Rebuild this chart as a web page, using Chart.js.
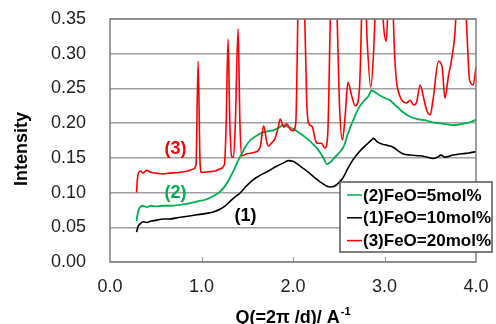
<!DOCTYPE html>
<html>
<head>
<meta charset="utf-8">
<script src="https://cdn.jsdelivr.net/npm/chart.js@4/dist/chart.umd.min.js"></script>
<style>
html,body{margin:0;padding:0;background:#fff;}
#wrap{width:496px;height:324px;}
</style>
</head>
<body>
<div id="wrap"><canvas id="c" width="496" height="324"></canvas></div>
<script>
// ---- data ----
const seriesLabels = ['(2)FeO=5mol%', '(1)FeO=10mol%', '(3)FeO=20mol%'];
const seriesColors = ['#00B050', '#000000', '#FF0000'];

// (2) FeO = 5 mol%
const q2 = [0.29,0.30,0.31,0.33,0.36,0.40,0.45,0.50,0.58,0.65,0.75,0.85,0.95,1.05,1.13,1.20,1.26,1.31,1.36,1.40,1.44,1.48,1.53,1.58,1.64,1.72,1.79,1.85,1.89,1.94,2.00,2.08,2.15,2.21,2.26,2.30,2.34,2.37,2.41,2.45,2.51,2.56,2.60,2.66,2.72,2.78,2.82,2.86,2.90,2.99,3.06,3.10,3.15,3.20,3.27,3.35,3.45,3.53,3.65,3.75,3.85,3.95,4.00];
const i2 = [0.059,0.068,0.074,0.079,0.081,0.079,0.081,0.080,0.081,0.081,0.082,0.084,0.087,0.090,0.095,0.101,0.110,0.121,0.134,0.146,0.156,0.166,0.175,0.180,0.185,0.188,0.190,0.194,0.197,0.195,0.192,0.185,0.178,0.171,0.164,0.157,0.148,0.141,0.144,0.150,0.158,0.168,0.185,0.205,0.222,0.233,0.238,0.247,0.244,0.237,0.233,0.228,0.222,0.216,0.210,0.206,0.204,0.201,0.199,0.197,0.199,0.202,0.205];

// (1) FeO = 10 mol%
const q1 = [0.29,0.30,0.31,0.33,0.36,0.40,0.45,0.50,0.58,0.65,0.75,0.85,0.95,1.05,1.13,1.20,1.26,1.31,1.36,1.42,1.48,1.55,1.63,1.73,1.82,1.90,1.95,2.00,2.05,2.10,2.17,2.24,2.30,2.36,2.40,2.45,2.50,2.55,2.60,2.66,2.72,2.77,2.82,2.86,2.88,2.92,2.97,3.03,3.10,3.15,3.20,3.28,3.39,3.47,3.53,3.58,3.62,3.66,3.75,3.85,3.92,4.00];
const i1 = [0.043,0.048,0.052,0.055,0.058,0.057,0.059,0.060,0.062,0.062,0.064,0.066,0.068,0.070,0.072,0.076,0.081,0.087,0.093,0.099,0.108,0.117,0.124,0.131,0.138,0.143,0.146,0.145,0.141,0.136,0.129,0.121,0.115,0.110,0.108,0.109,0.114,0.122,0.135,0.148,0.158,0.165,0.171,0.176,0.178,0.173,0.170,0.168,0.165,0.160,0.156,0.154,0.153,0.151,0.149,0.151,0.154,0.151,0.154,0.156,0.157,0.159];

// (3) FeO = 20 mol%
const q3 = [0.29,0.30,0.31,0.33,0.36,0.40,0.45,0.50,0.58,0.65,0.75,0.85,0.91,0.94,0.963,0.985,1.00,1.08,1.15,1.20,1.25,1.27,1.29,1.31,1.33,1.35,1.37,1.40,1.42,1.44,1.50,1.58,1.64,1.68,1.71,1.73,1.77,1.80,1.84,1.86,1.90,1.93,1.97,2.00,2.03,2.06,2.09,2.12,2.15,2.17,2.21,2.24,2.26,2.31,2.35,2.38,2.41,2.45,2.48,2.51,2.54,2.57,2.60,2.64,2.68,2.70,2.73,2.76,2.78,2.81,2.85,2.88,2.91,2.95,2.99,3.02,3.05,3.08,3.11,3.13,3.17,3.24,3.28,3.32,3.35,3.39,3.42,3.46,3.50,3.53,3.59,3.63,3.66,3.70,3.73,3.77,3.80,3.85,3.89,3.93,3.97,4.00];
const i3 = [0.100,0.120,0.128,0.131,0.128,0.132,0.129,0.128,0.127,0.128,0.129,0.131,0.134,0.140,0.289,0.140,0.129,0.130,0.131,0.134,0.140,0.200,0.321,0.200,0.152,0.151,0.200,0.336,0.200,0.153,0.156,0.158,0.165,0.196,0.175,0.167,0.172,0.177,0.195,0.206,0.194,0.199,0.191,0.189,0.200,0.400,0.460,0.400,0.230,0.200,0.195,0.178,0.171,0.171,0.164,0.185,0.360,0.450,0.360,0.220,0.176,0.210,0.259,0.240,0.225,0.227,0.259,0.400,0.420,0.320,0.252,0.300,0.400,0.450,0.340,0.318,0.400,0.400,0.300,0.262,0.238,0.229,0.233,0.226,0.230,0.255,0.241,0.219,0.212,0.233,0.289,0.281,0.236,0.269,0.289,0.330,0.400,0.420,0.360,0.262,0.255,0.281];

// curve tags drawn inside the plot (data coordinates)
const tagText = ['(3)', '(2)', '(1)'];
const tagQ = [0.715, 0.715, 1.48];
const tagI = [0.163, 0.100, 0.066];
const tagColor = ['#FF0000', '#00B050', '#000000'];

const xTicksMin = 0, xTicksMax = 4, xStep = 1;
const yTicksMin = 0, yTicksMax = 0.35, yStep = 0.05;
const xTitleMain = 'Q(=2\u03C0 /d)/ A';
const xTitleSup = '-1';
const yTitle = 'Intensity';

function pts(q, v) { return q.map((x, k) => ({x: x, y: v[k]})); }

const decor = {
  id: 'decor',
  afterDatasetsDraw(chart) {
    const ctx = chart.ctx, a = chart.chartArea, xs = chart.scales.x;
    ctx.save();
    ctx.strokeStyle = '#a0a0a0';
    ctx.lineWidth = 1.2;
    for (let v = xTicksMin + xStep; v < xTicksMax; v += xStep) {
      const px = Math.round(xs.getPixelForValue(v)) + 0.5;
      ctx.beginPath(); ctx.moveTo(px, a.bottom); ctx.lineTo(px, a.bottom - 5); ctx.stroke();
    }
    ctx.strokeStyle = '#808080';
    ctx.lineWidth = 1.5;
    ctx.strokeRect(a.left, a.top, a.right - a.left, a.bottom - a.top);
    ctx.restore();
  },
  afterDraw(chart) {
    const ctx = chart.ctx, a = chart.chartArea, xs = chart.scales.x, ys = chart.scales.y;
    ctx.save();
    ctx.font = 'bold 18px "Liberation Sans", Arial, sans-serif';
    ctx.textAlign = 'center';
    ctx.textBaseline = 'middle';
    tagText.forEach((t, k) => {
      ctx.fillStyle = tagColor[k];
      ctx.fillText(t, xs.getPixelForValue(tagQ[k]), ys.getPixelForValue(tagI[k]));
    });
    ctx.fillStyle = '#000';
    ctx.save();
    ctx.translate(22, 149);
    ctx.rotate(-Math.PI / 2);
    ctx.fillText(yTitle, 0, 0);
    ctx.restore();
    ctx.textAlign = 'left';
    ctx.textBaseline = 'alphabetic';
    const wMain = ctx.measureText(xTitleMain).width;
    ctx.font = 'bold 11px "Liberation Sans", Arial, sans-serif';
    const wSup = ctx.measureText(xTitleSup).width;
    const cx = (a.left + a.right) / 2;
    const x0 = cx - (wMain + wSup + 1) / 2;
    const base = 323;
    ctx.font = 'bold 18px "Liberation Sans", Arial, sans-serif';
    ctx.fillText(xTitleMain, x0, base);
    ctx.font = 'bold 11px "Liberation Sans", Arial, sans-serif';
    ctx.fillText(xTitleSup, x0 + wMain + 1, base - 8);
    const lx = a.right - 136, ly = 182, lw = 152, lh = 70;
    ctx.fillStyle = '#fff';
    ctx.fillRect(lx, ly, lw, lh);
    ctx.strokeStyle = '#555';
    ctx.lineWidth = 1.5;
    ctx.strokeRect(lx, ly, lw, lh);
    ctx.font = 'bold 17px "Liberation Sans", Arial, sans-serif';
    ctx.textBaseline = 'middle';
    chart.data.datasets.forEach((ds, k) => {
      const yy = ly + 13 + k * 22.8;
      ctx.strokeStyle = ds.borderColor;
      ctx.lineWidth = 1.5;
      ctx.beginPath(); ctx.moveTo(lx + 7, yy); ctx.lineTo(lx + 22, yy); ctx.stroke();
      ctx.fillStyle = '#000';
      ctx.fillText(ds.label, lx + 23, yy + 1);
    });
    ctx.restore();
  }
};

new Chart(document.getElementById('c'), {
  type: 'line',
  data: {
    datasets: [
      {label: seriesLabels[0], data: pts(q2, i2), borderColor: seriesColors[0], borderWidth: 1.8, order: 2},
      {label: seriesLabels[1], data: pts(q1, i1), borderColor: seriesColors[1], borderWidth: 1.6, order: 1},
      {label: seriesLabels[2], data: pts(q3, i3), borderColor: seriesColors[2], borderWidth: 1.6, order: 0}
    ]
  },
  options: {
    responsive: false,
    animation: false,
    devicePixelRatio: 1,
    elements: {
      point: {radius: 0},
      line: {cubicInterpolationMode: 'monotone', fill: false}
    },
    layout: {padding: {top: 19, right: 20, left: 0, bottom: 0}},
    plugins: {legend: {display: false}, tooltip: {enabled: false}},
    scales: {
      x: {
        type: 'linear', min: xTicksMin, max: xTicksMax,
        afterFit(s) { s.height = 62; },
        grid: {display: true, drawOnChartArea: false, drawTicks: true, tickLength: 14, tickColor: 'rgba(0,0,0,0)', color: 'rgba(0,0,0,0)'},
        border: {display: false},
        ticks: {
          stepSize: xStep, padding: 0, color: '#222',
          font: {family: '"Liberation Sans", Arial, sans-serif', size: 18},
          callback: v => Number(v).toFixed(1)
        }
      },
      y: {
        type: 'linear', min: yTicksMin, max: yTicksMax,
        afterFit(s) { s.width = 110; },
        grid: {color: '#a0a0a0', lineWidth: 1.5, drawTicks: true, tickLength: 24, tickColor: 'rgba(0,0,0,0)'},
        border: {display: false},
        ticks: {
          stepSize: yStep, padding: 0, color: '#222',
          font: {family: '"Liberation Sans", Arial, sans-serif', size: 18},
          callback: v => Number(v).toFixed(2)
        }
      }
    }
  },
  plugins: [decor]
});
</script>
</body>
</html>
